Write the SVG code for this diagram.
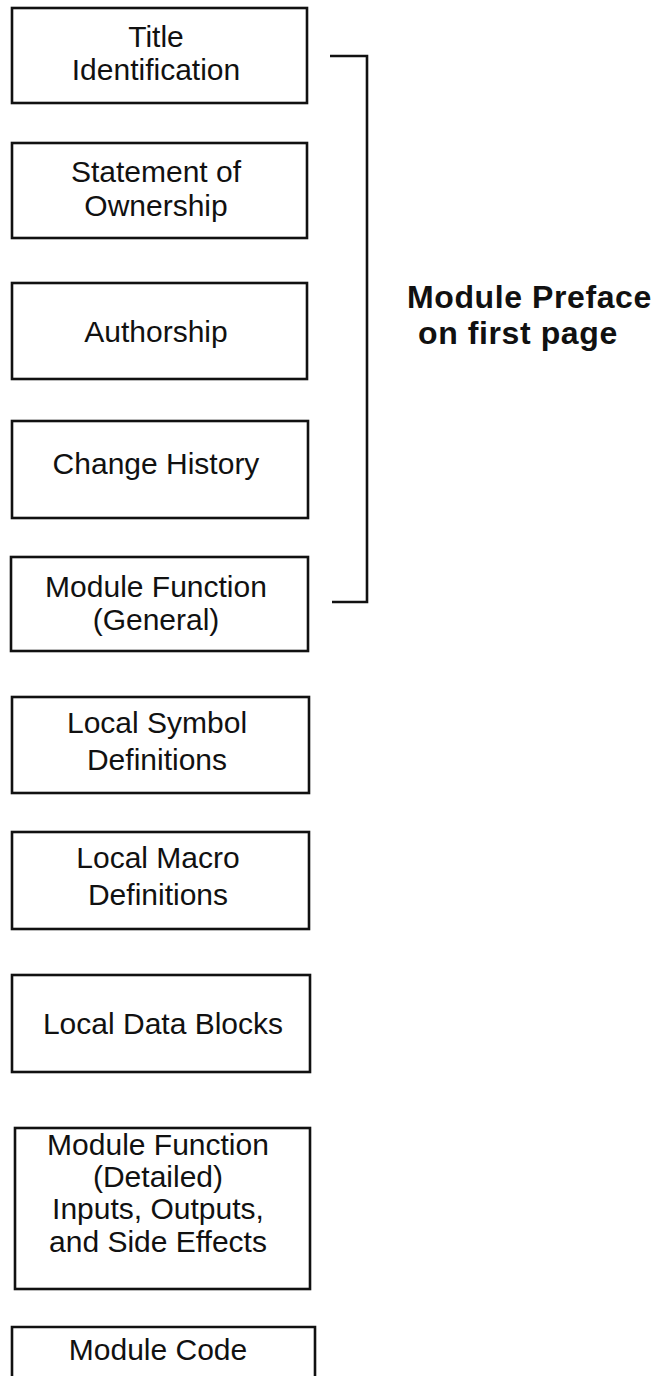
<svg xmlns="http://www.w3.org/2000/svg" width="667" height="1376" viewBox="0 0 667 1376">
<style>
.box{fill:#fff;stroke:#111;stroke-width:2.6}
.t{font-family:"Liberation Sans",Arial,sans-serif;font-size:30px;fill:#111;text-anchor:middle}
.b{font-family:"Liberation Sans",Arial,sans-serif;font-size:32px;font-weight:bold;fill:#111;letter-spacing:0.6px}
.br{fill:none;stroke:#111;stroke-width:2.6}
</style>
<rect width="667" height="1376" fill="#fff"/>
<g id="n1"><rect class="box" x="12" y="8" width="295" height="95"/><text class="t" x="156" y="47">Title</text><text class="t" x="156" y="80">Identification</text></g>
<g id="n2"><rect class="box" x="12" y="143" width="295" height="95"/><text class="t" x="156" y="182">Statement of</text><text class="t" x="156" y="216">Ownership</text></g>
<g id="n3"><rect class="box" x="12" y="283" width="295" height="96"/><text class="t" x="156" y="342">Authorship</text></g>
<g id="n4"><rect class="box" x="12" y="421" width="296" height="97"/><text class="t" x="156" y="474">Change History</text></g>
<g id="n5"><rect class="box" x="11" y="557" width="297" height="94"/><text class="t" x="156" y="597">Module Function</text><text class="t" x="156" y="630">(General)</text></g>
<g id="n6"><rect class="box" x="12" y="697" width="297" height="96"/><text class="t" x="157" y="733">Local Symbol</text><text class="t" x="157" y="770">Definitions</text></g>
<g id="n7"><rect class="box" x="12" y="832" width="297" height="97"/><text class="t" x="158" y="868">Local Macro</text><text class="t" x="158" y="905">Definitions</text></g>
<g id="n8"><rect class="box" x="12" y="975" width="298" height="97"/><text class="t" x="163" y="1034">Local Data Blocks</text></g>
<g id="n9"><rect class="box" x="15" y="1128" width="295" height="161"/><text class="t" x="158" y="1155">Module Function</text><text class="t" x="158" y="1187">(Detailed)</text><text class="t" x="158" y="1219">Inputs, Outputs,</text><text class="t" x="158" y="1252">and Side Effects</text></g>
<g id="n10"><path class="br" d="M12 1380 V1327 H315 V1380"/><text class="t" x="158" y="1360">Module Code</text></g>
<g id="connectors"><path class="br" d="M330 56 H367 V602 H332"/></g>
<g id="label"><text class="b" x="407" y="308">Module Preface</text><text class="b" x="418" y="344">on first page</text></g>
</svg>
